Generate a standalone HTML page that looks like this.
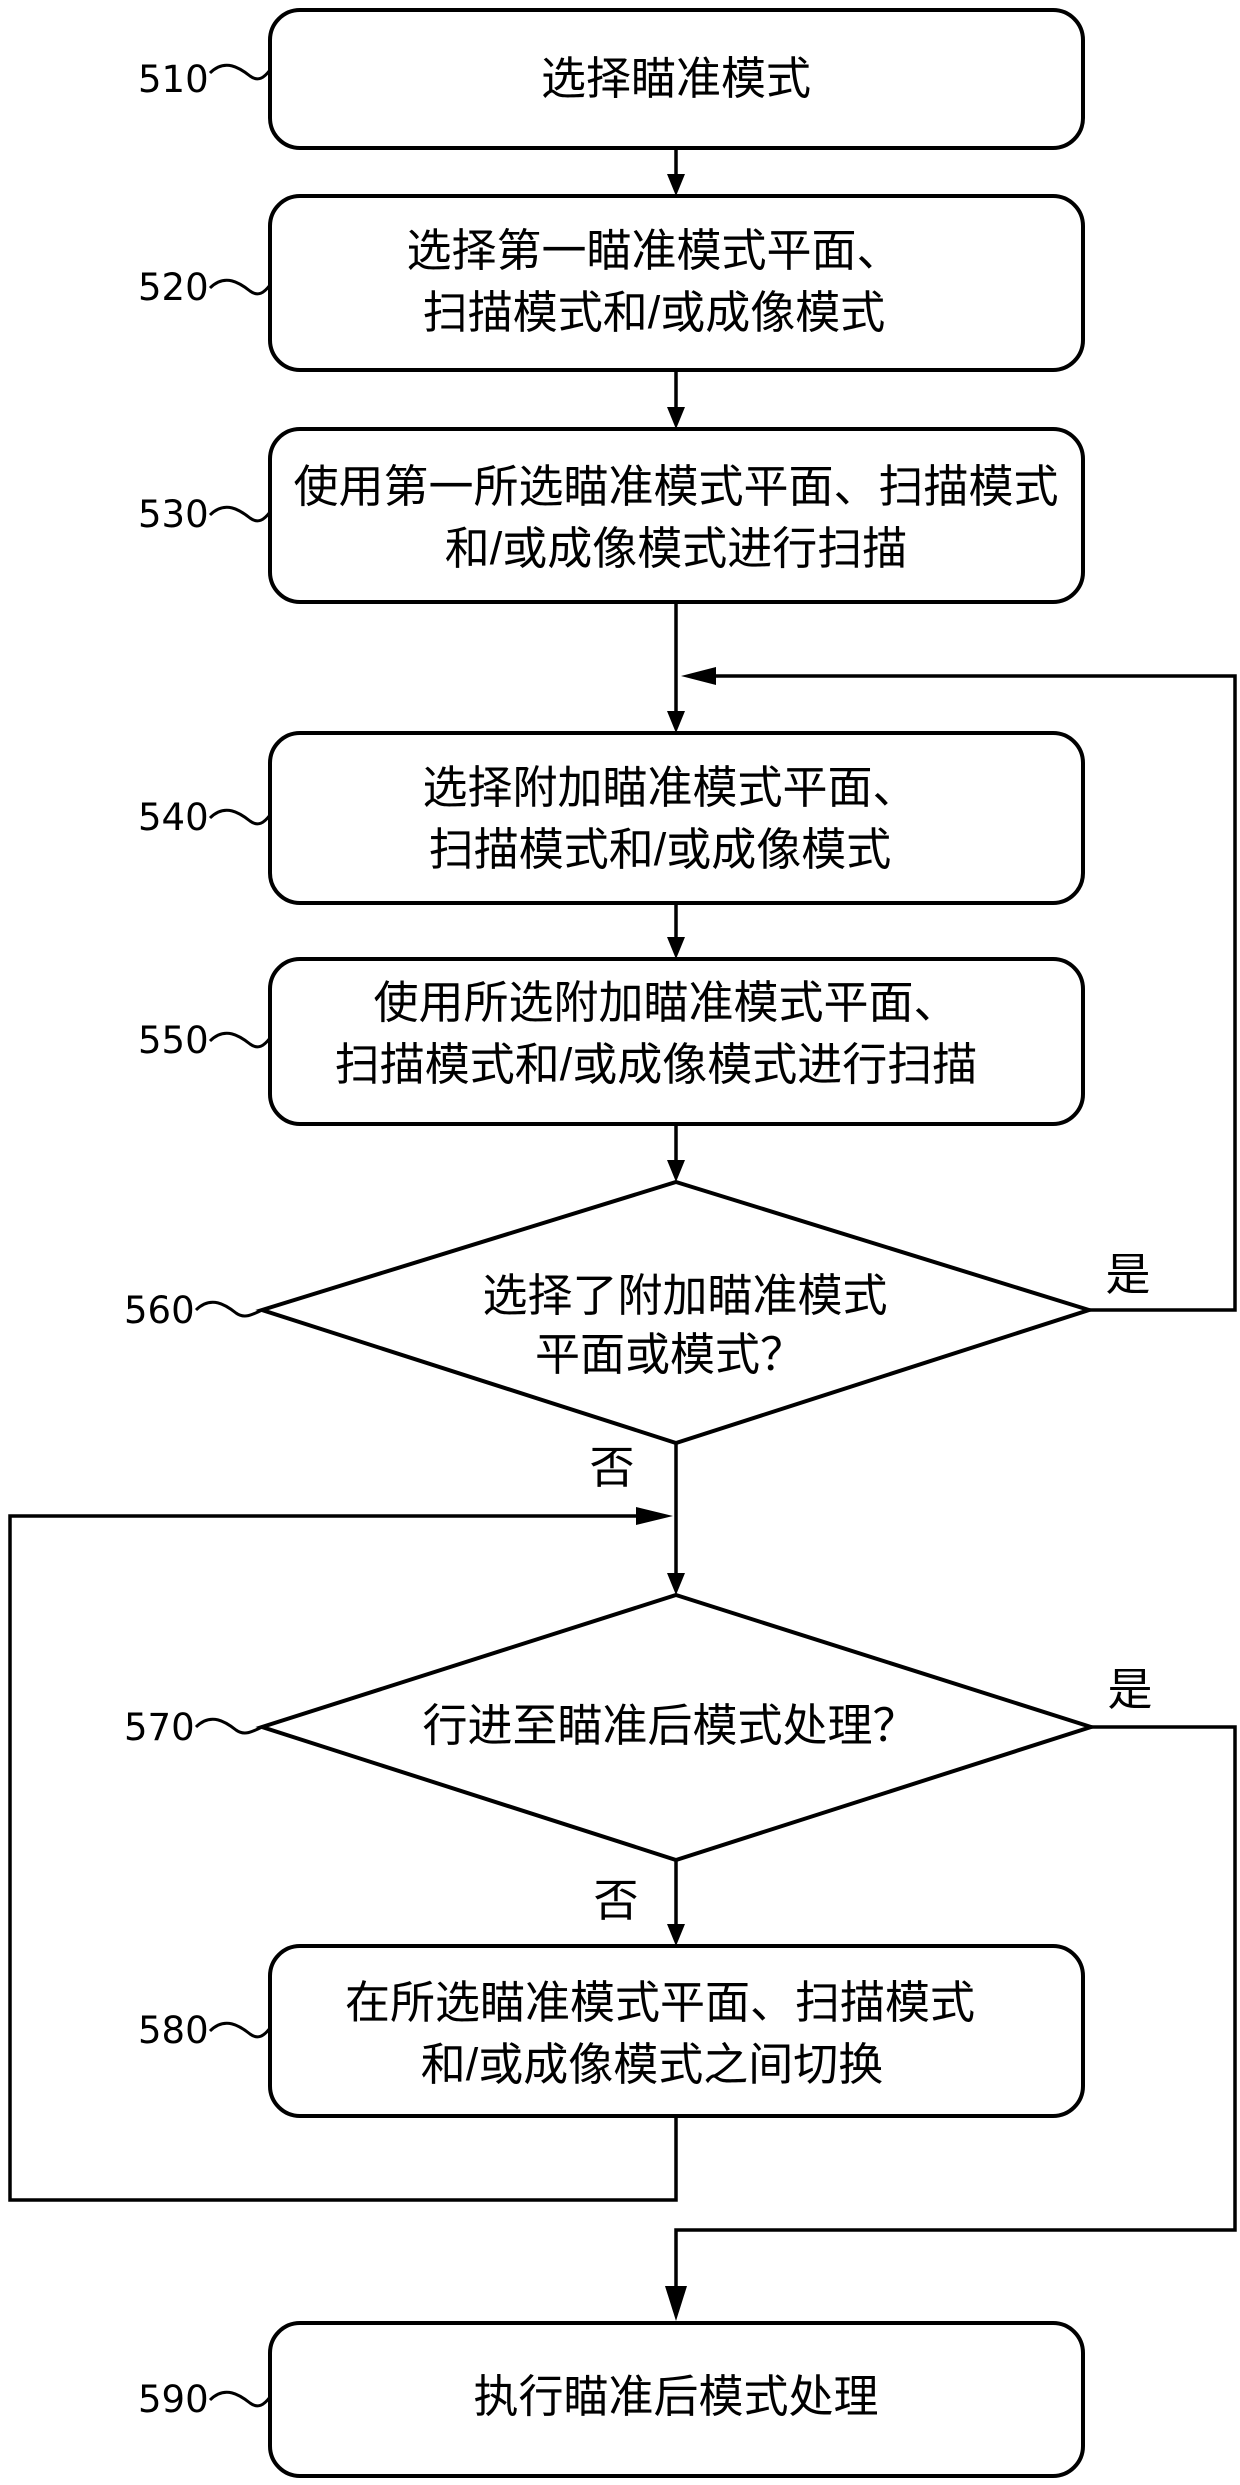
<!DOCTYPE html>
<html><head><meta charset="utf-8"><style>
html,body{margin:0;padding:0;background:#fff}
svg{display:block}
text{font-family:"Liberation Sans","Noto Sans CJK SC",sans-serif;fill:#000}
.t{font-size:45px;text-anchor:middle}
.n{font-size:37px;font-family:"DejaVu Sans","Liberation Sans",sans-serif}
</style></head><body>
<svg width="1240" height="2485" viewBox="0 0 1240 2485" xmlns="http://www.w3.org/2000/svg">
<defs>
<marker id="a" markerWidth="10" markerHeight="10" refX="9" refY="5" orient="auto" markerUnits="userSpaceOnUse" viewBox="0 0 10 10"><path d="M0,0 L10,5 L0,10 z" fill="#000"/></marker>
</defs>
<g fill="none" stroke="#000" stroke-width="4">
<rect x="270" y="10" width="813" height="138" rx="30"/>
<rect x="270" y="196" width="813" height="174" rx="30"/>
<rect x="270" y="429" width="813" height="173" rx="30"/>
<rect x="270" y="733" width="813" height="170" rx="30"/>
<rect x="270" y="959" width="813" height="165" rx="30"/>
<polygon points="676,1182 1089,1310 676,1443 262,1310"/>
<polygon points="676,1595 1091,1727 676,1860 262,1727"/>
<rect x="270" y="1946" width="813" height="170" rx="30"/>
<rect x="270" y="2323" width="813" height="153" rx="30"/>
</g>
<g fill="none" stroke="#000" stroke-width="3.5">
<line x1="676" y1="148" x2="676" y2="186"/>
<line x1="676" y1="370" x2="676" y2="419"/>
<line x1="676" y1="602" x2="676" y2="723"/>
<line x1="676" y1="903" x2="676" y2="949"/>
<line x1="676" y1="1124" x2="676" y2="1172"/>
<line x1="676" y1="1443" x2="676" y2="1585"/>
<line x1="676" y1="1860" x2="676" y2="1936"/>
<polyline points="1089,1310 1235,1310 1235,676 700,676"/>
<polyline points="676,2116 676,2200 10,2200 10,1516 650,1516"/>
<polyline points="1091,1727 1235,1727 1235,2230 676,2230 676,2290"/>
</g>
<g fill="#000">
<polygon points="676,196 667,174 685,174"/>
<polygon points="676,429 667,407 685,407"/>
<polygon points="676,733 667,711 685,711"/>
<polygon points="676,959 667,937 685,937"/>
<polygon points="676,1182 667,1160 685,1160"/>
<polygon points="676,1595 667,1573 685,1573"/>
<polygon points="676,1946 667,1924 685,1924"/>
<polygon points="681,676 716,667 716,685"/>
<polygon points="673,1516 636,1507 636,1525"/>
<polygon points="676,2321 665,2286 687,2286"/>
</g>
<g fill="none" stroke="#000" stroke-width="3">
<path d="M210,73 C225,58 240,68 250,76 C258,82 264,78 270,70"/>
<path d="M210,288 C225,273 240,283 250,291 C258,297 264,293 270,285"/>
<path d="M210,515 C225,500 240,510 250,518 C258,524 264,520 270,512"/>
<path d="M210,818 C225,803 240,813 250,821 C258,827 264,823 270,815"/>
<path d="M210,1041 C225,1026 240,1036 250,1044 C258,1050 264,1046 270,1038"/>
<path d="M196,1310 C211,1295 226,1305 236,1313 C244,1319 252,1315 262,1310"/>
<path d="M196,1727 C211,1712 226,1722 236,1730 C244,1736 252,1732 262,1727"/>
<path d="M210,2031 C225,2016 240,2026 250,2034 C258,2040 264,2036 270,2028"/>
<path d="M210,2400 C225,2385 240,2395 250,2403 C258,2409 264,2405 270,2397"/>
</g>
<text class="n" x="138" y="92">510</text>
<text class="n" x="138" y="300">520</text>
<text class="n" x="138" y="527">530</text>
<text class="n" x="138" y="830">540</text>
<text class="n" x="138" y="1053">550</text>
<text class="n" x="124" y="1323">560</text>
<text class="n" x="124" y="1740">570</text>
<text class="n" x="138" y="2043">580</text>
<text class="n" x="138" y="2412">590</text>
<text class="t" x="676" y="94">选择瞄准模式</text>
<text class="t" x="654" y="266">选择第一瞄准模式平面、</text>
<text class="t" x="654" y="328">扫描模式和/或成像模式</text>
<text class="t" x="676" y="502">使用第一所选瞄准模式平面、扫描模式</text>
<text class="t" x="676" y="564">和/或成像模式进行扫描</text>
<text class="t" x="670" y="803">选择附加瞄准模式平面、</text>
<text class="t" x="660" y="865">扫描模式和/或成像模式</text>
<text class="t" x="666" y="1018">使用所选附加瞄准模式平面、</text>
<text class="t" x="656" y="1080">扫描模式和/或成像模式进行扫描</text>
<text class="t" x="685" y="1311">选择了附加瞄准模式</text>
<text class="t" x="670" y="1370">平面或模式？</text>
<text class="t" x="670" y="1741">行进至瞄准后模式处理？</text>
<text class="t" x="660" y="2018">在所选瞄准模式平面、扫描模式</text>
<text class="t" x="652" y="2080">和/或成像模式之间切换</text>
<text class="t" x="676" y="2412">执行瞄准后模式处理</text>
<text class="t" x="1128" y="1290">是</text>
<text class="t" x="1130" y="1705">是</text>
<text class="t" x="612" y="1483">否</text>
<text class="t" x="616" y="1916">否</text>
</svg>
</body></html>
